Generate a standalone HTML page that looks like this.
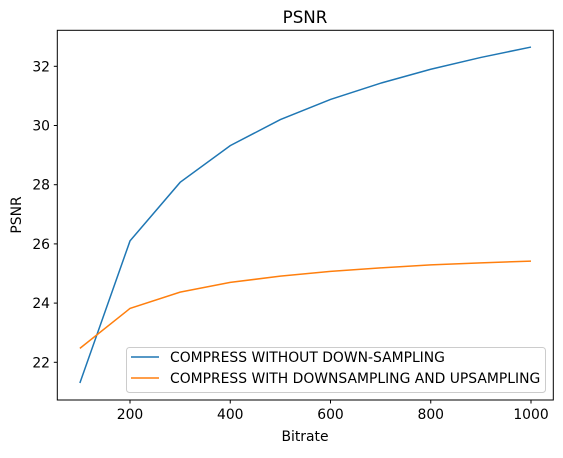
<!DOCTYPE html>
<html><head><meta charset="utf-8"><style>
body{margin:0;background:#fff;}
text{font-family:"DejaVu Sans","Liberation Sans",sans-serif;fill:#000;}
</style></head><body>
<svg id="chart" width="563" height="453" xmlns="http://www.w3.org/2000/svg">
<rect width="563" height="453" fill="#fff"/>
<text x="305" y="23" font-size="16.7" text-anchor="middle">PSNR</text>
<g id="xticks"></g><g id="yticks"></g><g id="lines"></g>
<rect x="57.3" y="30.3" width="496" height="369.7" fill="none" stroke="#000" stroke-width="1"/>
<text x="305" y="441" font-size="13.9" text-anchor="middle">Bitrate</text>
<text x="0" y="0" font-size="13.9" text-anchor="middle" transform="translate(21,215) rotate(-90)">PSNR</text>
<g>
<rect x="126.5" y="347.5" width="419" height="45" rx="3" fill="#fff" fill-opacity="0.8" stroke="#ccc"/>
<line x1="131" y1="357" x2="159" y2="357" stroke="#1f77b4" stroke-width="1.5"/>
<text x="170" y="362" font-size="13.9">COMPRESS WITHOUT DOWN-SAMPLING</text>
<line x1="131" y1="378" x2="159" y2="378" stroke="#ff7f0e" stroke-width="1.5"/>
<text x="170" y="383" font-size="13.9">COMPRESS WITH DOWNSAMPLING AND UPSAMPLING</text>
</g>
</svg>
<script>
const bitrates=[100,200,300,400,500,600,700,800,900,1000];
const psnrWithout=[21.3,26.1,28.08,29.32,30.2,30.88,31.43,31.9,32.3,32.65];
const psnrWith=[22.47,23.82,24.37,24.7,24.91,25.07,25.19,25.29,25.36,25.42];
const xTickValues=[200,400,600,800,1000];
const yTickValues=[22,24,26,28,30,32];
const NS="http://www.w3.org/2000/svg";
function xs(v){return 130+(v-200)*0.50125;}
function ys(v){return 362.3-(v-22)*29.6;}
function mk(tag,attrs,parent){const e=document.createElementNS(NS,tag);for(const k in attrs)e.setAttribute(k,attrs[k]);parent.appendChild(e);return e;}
const xg=document.getElementById('xticks'),yg=document.getElementById('yticks'),lg=document.getElementById('lines');
xTickValues.forEach(v=>{
 const t=mk('line',{x1:xs(v),x2:xs(v),y1:400,y2:403.5,stroke:'#000'},xg);
 
 
 const l=mk('text',{x:xs(v),y:419,'font-size':13.9,'text-anchor':'middle'},xg);l.textContent=v;
 
 
});
yTickValues.forEach(v=>{
 const t=mk('line',{x1:53.8,x2:57.3,y1:ys(v),y2:ys(v),stroke:'#000'},yg);
 
 
 const l=mk('text',{x:50,y:ys(v)+5,'font-size':13.9,'text-anchor':'end'},yg);l.textContent=v;
 
 
});
function series(vals,color,name){
 const p=mk('polyline',{points:bitrates.map((b,i)=>xs(b)+','+ys(vals[i])).join(' '),fill:'none',stroke:color,'stroke-width':1.5},lg);
 
 
}
series(psnrWithout,'#1f77b4','line-without-downsampling');
series(psnrWith,'#ff7f0e','line-with-downsampling');
</script>
</body></html>
